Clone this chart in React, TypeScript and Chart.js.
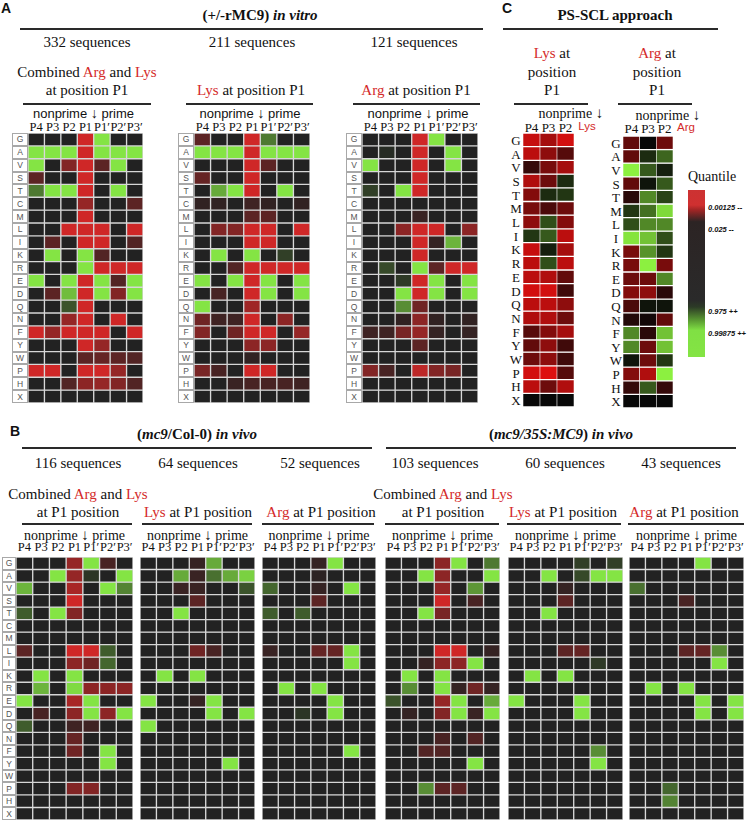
import React, { useEffect, useRef } from 'react';
import { Chart, registerables } from 'chart.js';

Chart.register(...registerables);

// ---------- DATA ----------
const AA = ['G', 'A', 'V', 'S', 'T', 'C', 'M', 'L', 'I', 'K', 'R', 'E', 'D', 'Q', 'N', 'F', 'Y', 'W', 'P', 'H', 'X'];
const AA_PSSCL = ['G', 'A', 'V', 'S', 'T', 'M', 'L', 'I', 'K', 'R', 'E', 'D', 'Q', 'N', 'F', 'Y', 'W', 'P', 'H', 'X'];
const POS7 = ['P4', 'P3', 'P2', 'P1', 'P1\u2032', 'P2\u2032', 'P3\u2032'];
const POS3 = ['P4', 'P3', 'P2'];
const SEQ_A = [332, 211, 121];
const SEQ_B_COL = [116, 64, 52];
const SEQ_B_35S = [103, 60, 43];
const QUANTILES = ['0.00125 --', '0.025 --', '0.975 ++', '0.99875 ++'];

// values: +1 = strongly enriched (red), -1 = strongly depleted (green), 0 = neutral
const A_COMBINED = [
  [0, 0, 0, .9, -1, 0, 0],
  [-1, -1, -1, .9, -1, -1, -1],
  [-1, 0, .5, .9, .3, -1, 0],
  [.3, 0, 0, .9, 0, 0, 0],
  [-.45, -1, -1, .9, 0, -1, 0],
  [0, 0, 0, .6, 0, 0, .3],
  [0, 0, 0, .9, 0, 0, 0],
  [0, 0, .9, .9, .9, 0, .9],
  [0, .3, 0, .9, .9, 0, .25],
  [0, -1, 0, -1, .25, 0, 0],
  [0, 0, 0, -1, .9, .9, .9],
  [-1, 0, -1, .9, -1, .25, -1],
  [0, .3, -.8, .9, -1, .5, -1],
  [0, 0, -.25, .9, 0, 0, 0],
  [0, 0, .6, .9, 0, .9, 0],
  [.9, .6, .9, .9, .9, 0, .9],
  [0, 0, 0, .9, .6, 0, 0],
  [0, 0, 0, .3, .35, .3, .25],
  [.9, .9, 0, .9, .9, .6, 0],
  [0, 0, .25, .55, .6, .5, .25],
  [0, 0, 0, 0, 0, 0, 0],
];
const A_LYS = [
  [.3, 0, 0, .9, -.45, 0, 0],
  [-1, -1, -1, .9, -1, -1, -1],
  [0, 0, 0, .9, .3, 0, 0],
  [.35, 0, 0, .9, 0, 0, 0],
  [0, -.7, -1, .9, 0, -1, 0],
  [.08, .08, 0, .15, .08, 0, .08],
  [0, 0, 0, .3, .3, 0, 0],
  [0, .5, .5, .9, .9, 0, .9],
  [0, 0, 0, .9, .9, 0, 0],
  [0, -1, 0, -1, 0, -.15, 0],
  [0, 0, .25, .9, .9, .9, .9],
  [-1, 0, -1, .9, -1, 0, -1],
  [0, .2, 0, .9, -1, 0, -1],
  [-1, 0, 0, .65, 0, 0, 0],
  [.4, .15, .15, .9, 0, .55, 0],
  [.5, 0, .4, .9, .9, 0, .6],
  [0, 0, 0, .55, .55, 0, 0],
  [0, 0, 0, .08, 0, 0, 0],
  [.45, .2, 0, .9, .9, 0, 0],
  [0, 0, .12, .2, .2, .2, .15],
  [0, 0, 0, 0, 0, 0, 0],
];
const A_ARG = [
  [0, 0, 0, .9, -1, 0, 0],
  [0, -.05, 0, .9, 0, -1, 0],
  [-1, 0, 0, .9, 0, -1, 0],
  [0, 0, 0, .9, 0, 0, 0],
  [-.15, 0, -1, .9, 0, 0, 0],
  [0, 0, 0, 0, 0, 0, 0],
  [0, 0, 0, .12, 0, 0, 0],
  [0, 0, .55, .9, .9, 0, .55],
  [0, 0, 0, .9, .1, -.75, 0],
  [0, 0, 0, .9, 0, 0, 0],
  [0, -.2, 0, -1, .3, .9, .9],
  [0, 0, -.12, .9, -1, 0, -1],
  [0, 0, -1, .9, -1, 0, -1],
  [0, 0, -.55, .4, 0, 0, 0],
  [0, 0, .08, .55, .08, 0, .08],
  [.15, .15, .45, .6, .1, 0, .1],
  [0, 0, 0, .3, 0, 0, 0],
  [0, 0, 0, 0, 0, 0, 0],
  [.5, .2, 0, .8, .5, .45, 0],
  [0, 0, 0, 0, 0, 0, 0],
  [0, 0, 0, 0, 0, 0, 0],
];
const B_COL_COMBINED = [
  [0, 0, 0, .6, -1, .2, 0],
  [0, 0, -1, .6, -.1, 0, -1],
  [-.75, 0, 0, .7, 0, -1, -.5],
  [0, 0, 0, .9, 0, 0, 0],
  [-.3, 0, -1, .5, 0, 0, 0],
  [0, 0, 0, 0, 0, 0, 0],
  [0, 0, 0, 0, 0, 0, 0],
  [.3, 0, 0, .9, .9, -.3, 0],
  [0, 0, 0, .55, .4, -.35, 0],
  [0, -1, 0, -1, 0, 0, 0],
  [0, -.75, 0, -.95, .55, .55, .55],
  [-1, 0, 0, .7, -1, 0, 0],
  [0, .2, 0, .55, -1, .55, -1],
  [-.3, 0, 0, .15, .15, 0, 0],
  [0, 0, 0, .35, 0, 0, 0],
  [0, 0, 0, .4, 0, -1, 0],
  [0, 0, 0, 0, 0, -1, 0],
  [0, 0, 0, 0, 0, 0, 0],
  [0, 0, 0, .5, .5, 0, 0],
  [0, 0, 0, 0, 0, 0, 0],
  [0, 0, 0, 0, 0, 0, 0],
];
const B_COL_LYS = [
  [0, 0, 0, .1, -.7, 0, 0],
  [0, 0, -.7, .12, -.4, -.7, -.9],
  [0, 0, .12, .12, 0, 0, -.25],
  [0, 0, 0, .3, 0, 0, 0],
  [0, 0, -1, 0, 0, 0, 0],
  [0, 0, 0, 0, 0, 0, 0],
  [0, 0, 0, 0, 0, 0, 0],
  [0, 0, 0, .4, .2, 0, 0],
  [0, 0, 0, 0, 0, 0, 0],
  [0, -1, 0, -1, 0, 0, 0],
  [0, 0, 0, 0, 0, 0, 0],
  [-1, 0, 0, .1, -1, 0, 0],
  [0, 0, 0, 0, -1, 0, -1],
  [-1, 0, 0, 0, 0, 0, 0],
  [0, 0, 0, 0, 0, 0, 0],
  [0, 0, 0, 0, 0, 0, 0],
  [0, 0, 0, 0, 0, -1, 0],
  [0, 0, 0, 0, 0, 0, 0],
  [0, 0, 0, 0, 0, 0, 0],
  [0, 0, 0, 0, 0, 0, 0],
  [0, 0, 0, 0, 0, 0, 0],
];
const B_COL_ARG = [
  [0, 0, 0, .1, -1, 0, 0],
  [0, 0, 0, .05, 0, 0, 0],
  [-.35, 0, 0, .1, 0, -1, 0],
  [0, 0, 0, .3, 0, 0, 0],
  [-.3, 0, -.3, 0, 0, 0, 0],
  [0, 0, 0, 0, 0, 0, 0],
  [0, 0, 0, 0, 0, 0, 0],
  [.12, 0, 0, .35, .35, -1, 0],
  [0, 0, 0, 0, 0, -1, 0],
  [0, 0, 0, 0, 0, 0, 0],
  [0, -1, 0, -1, 0, 0, 0],
  [0, 0, 0, 0, -1, 0, 0],
  [0, 0, -.1, 0, -1, 0, 0],
  [0, 0, 0, 0, 0, 0, 0],
  [0, 0, 0, 0, 0, 0, 0],
  [0, 0, 0, 0, 0, -1, 0],
  [0, 0, 0, 0, 0, 0, 0],
  [0, 0, 0, 0, 0, 0, 0],
  [0, 0, 0, 0, 0, 0, 0],
  [0, 0, 0, 0, 0, 0, 0],
  [0, 0, 0, 0, 0, 0, 0],
];
const B_35S_COMBINED = [
  [0, 0, 0, .55, -1, 0, -.45],
  [0, 0, -1, .55, 0, 0, -1],
  [0, 0, 0, .6, 0, -.6, 0],
  [0, 0, 0, .9, 0, .2, 0],
  [0, 0, -1, .45, 0, 0, 0],
  [0, 0, 0, 0, 0, 0, 0],
  [0, 0, 0, 0, 0, 0, 0],
  [0, 0, 0, .9, .9, 0, .1],
  [0, 0, .1, .55, .55, -1, 0],
  [0, -1, 0, -1, 0, 0, 0],
  [0, -.55, 0, -1, .1, .4, .1],
  [-.25, 0, 0, .6, -1, 0, -.7],
  [0, .1, 0, .5, -1, .12, -1],
  [0, 0, 0, 0, 0, 0, 0],
  [0, 0, 0, .2, 0, .25, 0],
  [0, 0, .25, .25, 0, 0, 0],
  [0, 0, 0, 0, 0, -1, 0],
  [0, 0, 0, 0, 0, 0, 0],
  [0, 0, -.55, .3, .3, 0, 0],
  [0, 0, 0, 0, 0, 0, 0],
  [0, 0, 0, 0, 0, 0, 0],
];
const B_35S_LYS = [
  [0, 0, 0, 0, -.15, 0, -.15],
  [0, 0, -1, 0, -.2, -1, -1],
  [0, 0, 0, .1, 0, 0, 0],
  [0, 0, 0, .3, 0, 0, 0],
  [0, 0, -1, 0, 0, 0, 0],
  [0, 0, 0, 0, 0, 0, 0],
  [0, 0, 0, 0, 0, 0, 0],
  [0, 0, 0, .3, .35, 0, 0],
  [0, 0, 0, 0, 0, -.12, 0],
  [0, -1, 0, -1, 0, 0, 0],
  [0, 0, 0, 0, 0, 0, 0],
  [-1, 0, 0, 0, -1, 0, 0],
  [0, 0, 0, 0, -1, 0, 0],
  [0, 0, 0, 0, 0, 0, 0],
  [0, 0, 0, 0, 0, 0, 0],
  [0, 0, 0, 0, 0, -.55, 0],
  [0, 0, 0, 0, 0, -1, 0],
  [0, 0, 0, 0, 0, 0, 0],
  [0, 0, 0, 0, 0, 0, 0],
  [0, 0, 0, 0, 0, 0, 0],
  [0, 0, 0, 0, 0, 0, 0],
];
const B_35S_ARG = [
  [0, 0, 0, 0, -1, 0, 0],
  [0, 0, 0, 0, 0, 0, 0],
  [-.4, 0, 0, 0, 0, 0, 0],
  [0, 0, 0, .2, 0, 0, 0],
  [0, 0, 0, 0, 0, 0, 0],
  [0, 0, 0, 0, 0, 0, 0],
  [0, 0, 0, 0, 0, 0, 0],
  [0, 0, 0, .3, .35, -.55, 0],
  [0, 0, 0, 0, 0, -1, 0],
  [0, 0, 0, 0, 0, 0, 0],
  [0, -1, 0, -1, 0, 0, 0],
  [0, 0, 0, 0, -1, 0, -1],
  [0, 0, 0, 0, -1, 0, -1],
  [0, 0, 0, 0, 0, 0, 0],
  [0, 0, 0, 0, 0, 0, 0],
  [0, 0, 0, 0, 0, 0, 0],
  [0, 0, 0, 0, 0, 0, 0],
  [0, 0, 0, 0, 0, 0, 0],
  [0, 0, -.35, 0, 0, 0, 0],
  [0, 0, -.5, 0, 0, 0, 0],
  [0, 0, 0, 0, 0, 0, 0],
];
// PS-SCL (no Cys row)
const C_LYS = [
  [.85, .7, .9],
  [.8, .6, .35],
  [.2, .5, .7],
  [.75, .45, -.15],
  [.55, -.15, -.2],
  [.5, .3, .45],
  [.6, -.3, .55],
  [-.2, -.35, .8],
  [.85, -.1, .7],
  [.8, -.3, .8],
  [.8, .75, .4],
  [.9, .9, .25],
  [.8, .8, .6],
  [.75, .75, .45],
  [.35, .55, .7],
  [.4, .6, .25],
  [.45, .6, .25],
  [.9, .95, .35],
  [.8, .45, .75],
  [0, 0, 0],
];
const C_ARG = [
  [.4, 0, .45],
  [.4, -.15, -.4],
  [-1, -.35, -.1],
  [.4, -.05, -.35],
  [.15, -.55, -.25],
  [-.2, -.45, -.9],
  [-.3, -.55, -.55],
  [-.95, -.8, -.3],
  [.5, -.6, -.2],
  [.5, -1, .5],
  [.45, .45, -.55],
  [.55, .6, .15],
  [.3, -.05, -.05],
  [.12, .05, .4],
  [-.55, .15, -.8],
  [-.55, .45, -.8],
  [-.05, .45, -.2],
  [.55, .75, -1],
  [.2, -.35, .2],
  [0, 0, 0],
];

// ---------- STYLE ----------
const SERIF = '"Liberation Serif", "Times New Roman", serif';
const SANS = '"Liberation Sans", Arial, sans-serif';
const RED = '#d42a2a';

function mix(a: number[], b: number[], t: number) {
  const c = a.map((v, i) => Math.round(v + (b[i] - v) * t));
  return `rgb(${c[0]},${c[1]},${c[2]})`;
}
function colorAB(v: number) {
  return v >= 0 ? mix([34, 34, 34], [226, 40, 40], v) : mix([34, 34, 34], [132, 228, 68], -v);
}
function colorC(v: number) {
  return v >= 0 ? mix([8, 8, 8], [232, 16, 16], v) : mix([8, 8, 8], [140, 240, 64], -v);
}

type HMProps = {
  values: number[][];
  rows: string[];
  cols: string[];
  left: number;
  top: number;
  width: number;
  height: number;
  kind: 'ab' | 'c';
};

function Heatmap({ values, rows, cols, left, top, width, height, kind }: HMProps) {
  const ref = useRef<HTMLCanvasElement>(null);
  useEffect(() => {
    const colorFn = kind === 'ab' ? colorAB : colorC;
    const datasets = rows.map((aa, r) => ({
      label: aa,
      data: cols.map(() => 1),
      backgroundColor: values[r].map(colorFn),
      borderColor: kind === 'ab' ? '#d6d6d6' : '#ffffff',
      borderWidth: kind === 'ab' ? 1 : { top: 1, bottom: 1, left: 0.6, right: 0.6 },
      borderSkipped: false,
      categoryPercentage: 1,
      barPercentage: 1,
    }));
    const chart = new Chart(ref.current as HTMLCanvasElement, {
      type: 'bar',
      data: { labels: cols, datasets: datasets as any },
      options: {
        animation: false,
        responsive: false,
        maintainAspectRatio: false,
        layout: { padding: 0 },
        plugins: { legend: { display: false }, tooltip: { enabled: false } },
        scales: {
          x: { stacked: true, display: false },
          y: { stacked: true, display: false, min: 0, max: rows.length, reverse: true },
        },
      },
    });
    return () => chart.destroy();
  }, []);
  return (
    <canvas
      ref={ref}
      width={width}
      height={height}
      style={{ position: 'absolute', left, top, width, height }}
    />
  );
}

type TxtProps = {
  x: number;
  y: number;
  size: number;
  font?: string;
  bold?: boolean;
  italic?: boolean;
  color?: string;
  anchor?: 'start' | 'middle';
  children: React.ReactNode;
};
function Txt({ x, y, size, font = SERIF, bold, italic, color = '#111', anchor = 'middle', children }: TxtProps) {
  return (
    <div
      style={{
        position: 'absolute',
        left: x,
        top: y,
        transform: `translate(${anchor === 'start' ? '0' : '-50%'}, -50%)`,
        whiteSpace: 'nowrap',
        fontFamily: font,
        fontSize: size,
        fontWeight: bold ? 'bold' : 'normal',
        fontStyle: italic ? 'italic' : 'normal',
        color,
        lineHeight: 1,
      }}
    >
      {children}
    </div>
  );
}

function HLine({ x1, x2, y, h = 1.5 }: { x1: number; x2: number; y: number; h?: number }) {
  return <div style={{ position: 'absolute', left: x1, top: y, width: x2 - x1, height: h, background: '#2a2a2a' }} />;
}

function Red({ children }: { children: React.ReactNode }) {
  return <span style={{ color: RED }}>{children}</span>;
}

function Arrow() {
  return <span style={{ fontFamily: SANS, fontSize: '1.1em', color: '#111' }}>{'\u2193'}</span>;
}

function ColLabels({ cols, left, width, y, size }: { cols: string[]; left: number; width: number; y: number; size: number }) {
  const w = width / cols.length;
  return (
    <>
      {cols.map((c, i) => (
        <Txt key={c} x={left + (i + 0.5) * w} y={y} size={size}>
          {c}
        </Txt>
      ))}
    </>
  );
}

function LetterBoxes({ left, top, width, height }: { left: number; top: number; width: number; height: number }) {
  const h = height / AA.length;
  return (
    <>
      {AA.map((a, i) => (
        <div
          key={a}
          style={{
            position: 'absolute',
            left,
            top: top + i * h,
            width,
            height: h,
            boxSizing: 'border-box',
            border: '1px solid #a8a8a8',
            background: '#fff',
            fontFamily: SANS,
            fontSize: 8.5,
            color: '#555',
            display: 'flex',
            alignItems: 'center',
            justifyContent: 'center',
          }}
        >
          {a}
        </div>
      ))}
    </>
  );
}

function PlainLetters({ x, top, height }: { x: number; top: number; height: number }) {
  const h = height / AA_PSSCL.length;
  return (
    <>
      {AA_PSSCL.map((a, i) => (
        <Txt key={a} x={x} y={top + (i + 0.5) * h} size={13}>
          {a}
        </Txt>
      ))}
    </>
  );
}

// layout of the heatmaps
const A_TOP = 133;
const A_H = 270;
const A_MAPS = [
  { left: 28, width: 115, values: A_COMBINED, box: 12 },
  { left: 194, width: 116, values: A_LYS, box: 178 },
  { left: 362, width: 116, values: A_ARG, box: 346 },
];
const B_TOP = 557;
const B_H = 263;
const B_MAPS = [
  { left: 16, width: 117, values: B_COL_COMBINED },
  { left: 140, width: 115, values: B_COL_LYS },
  { left: 262, width: 114, values: B_COL_ARG },
  { left: 385, width: 115, values: B_35S_COMBINED },
  { left: 508, width: 115, values: B_35S_LYS },
  { left: 629, width: 115, values: B_35S_ARG },
];

export default function App() {
  const aTitles = [
    { line1: (<>Combined <Red>Arg</Red> and <Red>Lys</Red></>), line2: 'at position P1' },
    { line1: null, line2: (<><Red>Lys</Red> at position P1</>) },
    { line1: null, line2: (<><Red>Arg</Red> at position P1</>) },
  ];
  const aUnder = [[23, 151], [186, 313], [353, 480]];
  const aTextX = [87, 251, 416];

  const bTitles = [
    { line1: (<>Combined <Red>Arg</Red> and <Red>Lys</Red></>), line2: 'at P1 position' },
    { line1: null, line2: (<><Red>Lys</Red> at P1 position</>) },
    { line1: null, line2: (<><Red>Arg</Red> at P1 position</>) },
    { line1: (<>Combined <Red>Arg</Red> and <Red>Lys</Red></>), line2: 'at P1 position' },
    { line1: null, line2: (<><Red>Lys</Red> at P1 position</>) },
    { line1: null, line2: (<><Red>Arg</Red> at P1 position</>) },
  ];
  const bUnder = [[22, 132], [142, 252], [262, 374], [385, 499], [507, 621], [628, 744]];
  const bSeqX = [78, 198, 320, 435, 565, 681];
  const bTextX = [78, 198, 321, 443, 563, 684];
  const bSeqs = [...SEQ_B_COL, ...SEQ_B_35S];

  return (
    <div style={{ position: 'absolute', left: 0, top: 0, width: 751, height: 825, background: '#fff', overflow: 'hidden' }}>
      {/* ---------------- Panel A ---------------- */}
      <Txt x={6} y={8} size={14} font={SANS} bold>A</Txt>
      <Txt x={260} y={15} size={15} bold>
        (+/-rMC9) <i>in vitro</i>
      </Txt>
      <HLine x1={20} x2={483} y={28} />
      {SEQ_A.map((n, i) => (
        <Txt key={'sa' + i} x={[87, 252, 414][i]} y={42} size={15}>
          {n} sequences
        </Txt>
      ))}
      {A_MAPS.map((m, i) => (
        <React.Fragment key={'a' + i}>
          {aTitles[i].line1 && (
            <Txt x={aTextX[i]} y={72} size={15}>
              {aTitles[i].line1}
            </Txt>
          )}
          <Txt x={aTextX[i]} y={90} size={15}>
            {aTitles[i].line2}
          </Txt>
          <HLine x1={aUnder[i][0]} x2={aUnder[i][1]} y={103} />
          <Txt x={m.left + m.width / 2 - 2} y={113} size={13} font={SANS}>
            nonprime <Arrow /> prime
          </Txt>
          <ColLabels cols={POS7} left={m.left} width={m.width} y={127} size={12.5} />
          <LetterBoxes left={m.box} top={A_TOP} width={16} height={A_H} />
          <Heatmap values={m.values} rows={AA} cols={POS7} left={m.left} top={A_TOP} width={m.width} height={A_H} kind="ab" />
        </React.Fragment>
      ))}

      {/* ---------------- Panel C ---------------- */}
      <Txt x={507} y={8} size={14} font={SANS} bold>C</Txt>
      <Txt x={615} y={15} size={15} bold>PS-SCL approach</Txt>
      <HLine x1={503} x2={718} y={28} />
      <Txt x={552} y={53} size={15}><Red>Lys</Red> at</Txt>
      <Txt x={552} y={72} size={15}>position</Txt>
      <Txt x={552} y={90} size={15}>P1</Txt>
      <Txt x={657} y={53} size={15}><Red>Arg</Red> at</Txt>
      <Txt x={657} y={72} size={15}>position</Txt>
      <Txt x={657} y={90} size={15}>P1</Txt>
      <HLine x1={514} x2={588} y={103} />
      <HLine x1={618} x2={692} y={103} />
      <Txt x={571} y={113} size={14}>nonprime <Arrow /></Txt>
      <Txt x={668} y={115} size={14}>nonprime <Arrow /></Txt>
      <ColLabels cols={POS3} left={523} width={51} y={127} size={13} />
      <Txt x={587} y={127} size={11.5} font={SANS} color={RED}>Lys</Txt>
      <ColLabels cols={POS3} left={623} width={50} y={128} size={13} />
      <Txt x={686} y={128} size={11.5} font={SANS} color={RED}>Arg</Txt>
      <PlainLetters x={516} top={133} height={274} />
      <Heatmap values={C_LYS} rows={AA_PSSCL} cols={POS3} left={523} top={133} width={51} height={274} kind="c" />
      <PlainLetters x={616} top={136} height={272} />
      <Heatmap values={C_ARG} rows={AA_PSSCL} cols={POS3} left={623} top={136} width={50} height={272} kind="c" />
      <Txt x={712} y={177} size={14}>Quantile</Txt>
      <div
        style={{
          position: 'absolute',
          left: 688,
          top: 190,
          width: 17,
          height: 167,
          background:
            'linear-gradient(to bottom, #cc3232 0%, #d03030 9%, #a02525 12%, #2c2424 19%, #2a2a2a 66%, #2c3a26 70%, #5a9a32 78%, #80e044 84%, #84e444 100%)',
        }}
      />
      {QUANTILES.map((q, i) => (
        <Txt key={q} x={708} y={[208, 230, 312, 334][i]} size={7.5} font={SANS} bold italic anchor="start">
          {q}
        </Txt>
      ))}

      {/* ---------------- Panel B ---------------- */}
      <Txt x={15} y={431} size={14} font={SANS} bold>B</Txt>
      <Txt x={197} y={434} size={15} bold>
        (<i>mc9</i>/Col-0) <i>in vivo</i>
      </Txt>
      <Txt x={561} y={434} size={15} bold>
        (<i>mc9/35S:MC9</i>) <i>in vivo</i>
      </Txt>
      <HLine x1={22} x2={372} y={447} />
      <HLine x1={386} x2={736} y={447} />
      {bSeqs.map((n, i) => (
        <Txt key={'sb' + i} x={bSeqX[i]} y={463} size={15}>
          {n} sequences
        </Txt>
      ))}
      {B_MAPS.map((m, i) => {
        const cx = m.left + m.width / 2;
        return (
          <React.Fragment key={'b' + i}>
            {bTitles[i].line1 && (
              <Txt x={bTextX[i]} y={494} size={15}>
                {bTitles[i].line1}
              </Txt>
            )}
            <Txt x={bTextX[i]} y={512} size={15}>
              {bTitles[i].line2}
            </Txt>
            <HLine x1={bUnder[i][0]} x2={bUnder[i][1]} y={523} />
            <Txt x={cx} y={535} size={14}>
              nonprime <Arrow /> prime
            </Txt>
            <ColLabels cols={POS7} left={m.left} width={m.width} y={547} size={12.5} />
            <Heatmap values={m.values} rows={AA} cols={POS7} left={m.left} top={B_TOP} width={m.width} height={B_H} kind="ab" />
          </React.Fragment>
        );
      })}
      <LetterBoxes left={2} top={B_TOP} width={14} height={B_H} />
    </div>
  );
}
